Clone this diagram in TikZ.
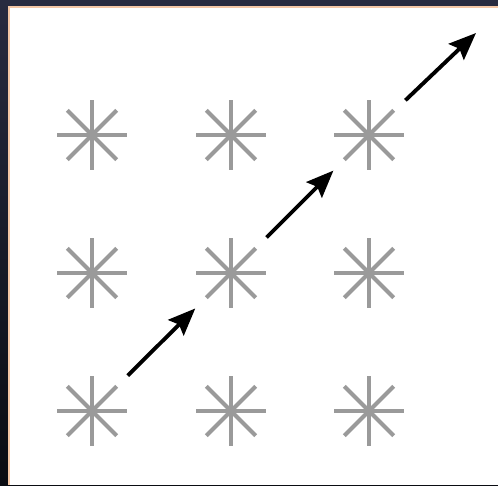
\documentclass[tikz,border=0pt]{standalone}
\usetikzlibrary{arrows.meta}
\definecolor{frametop}{HTML}{282B40}
\definecolor{framebot}{HTML}{0A0C12}
\definecolor{edge}{HTML}{F4C7A6}
\definecolor{armgray}{HTML}{9A9A9A}

\begin{document}
\begin{tikzpicture}[
x=0.02cm, y=-0.02cm,
star/.style={circle, inner sep=0pt, minimum size=2cm,
  path picture={\foreach \a in {0,45,...,315}
    \draw[armgray, line width=2.3pt] (path picture bounding box.center) -- ++(\a:0.7cm);}},
move/.style={line width=2.2pt, -{Stealth[length=15.5pt, width=12.5pt, inset=2.5pt]}}
]
\useasboundingbox (0,0) rectangle (498,485);
\shade[top color=frametop, bottom color=framebot] (0,0) rectangle (498,485);
\fill[white] (9,7) rectangle (498,485);
\draw[edge, line width=0.6pt] (9,485) -- (9,7) -- (498,7);

\foreach \c/\x in {1/92,2/231,3/369}
  \foreach \r/\y in {1/135,2/273,3/411}
    \node[star] (s-\r-\c) at (\x,\y) {};
\coordinate (exit) at (476,33);

\draw[move] (s-3-1) -- (s-2-2);
\draw[move] (s-2-2) -- (s-1-3);
\draw[move] (s-1-3) -- (exit);
\end{tikzpicture}
\end{document}
